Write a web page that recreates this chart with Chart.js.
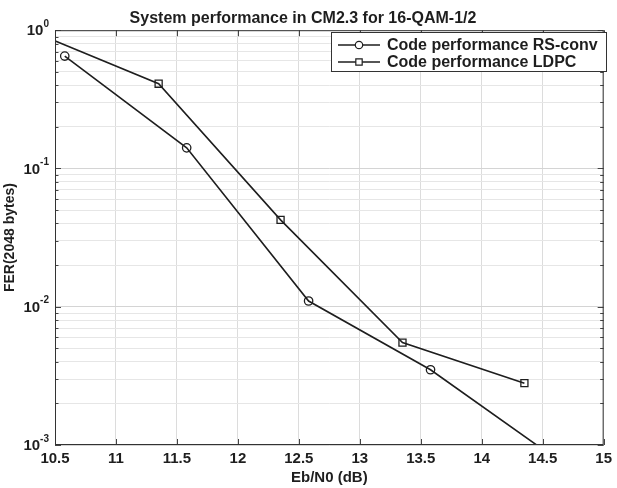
<!DOCTYPE html>
<html>
<head>
<meta charset="utf-8">
<script src="https://cdn.jsdelivr.net/npm/chart.js@4/dist/chart.umd.min.js"></script>
<style>
  body { margin: 0; background: #fff; }
  canvas { display: block; }
</style>
</head>
<body>
<canvas id="fer_chart" width="617" height="488"></canvas>
<script>
// values
const ebn0RS = [10.58, 11.58, 12.58, 13.58, 14.58];
const ferRS = [0.65, 0.141, 0.011, 0.0035, 0.00083];
const ebn0LDPC = [10.35, 11.35, 12.35, 13.35, 14.35];
const ferLDPC = [0.95, 0.41, 0.0425, 0.0055, 0.0028];

const seriesLabels = ["Code performance RS-conv", "Code performance LDPC"];
const xTicks = [10.5, 11, 11.5, 12, 12.5, 13, 13.5, 14, 14.5, 15];
const yDecades = [-3, -2, -1, 0];

const ink = "#1e1e1e";
const family = "Arial, 'Liberation Sans', sans-serif";

// grid lines at 1..9 x each decade
const yGrid = [];
yDecades.forEach((d) => {
  for (let m = 1; m <= 9; m++) {
    const v = m * Math.pow(10, d);
    if (v <= 1.0000001) yGrid.push(v);
  }
});
const isMajor = (v) => Math.abs(Math.log10(v) - Math.round(Math.log10(v))) < 1e-6;

const toPoints = (xs, ys) => xs.map((x, i) => ({ x: x, y: ys[i] }));

// MATLAB-ish box, inside ticks, superscript y labels and legend
const matlabAxes = {
  id: "matlabAxes",
  afterDatasetsDraw(chart) {
    const ctx = chart.ctx;
    const a = chart.chartArea;
    const xs = chart.scales.x;
    const ys = chart.scales.y;
    ctx.save();

    // tick marks inside the box
    ctx.strokeStyle = "#444";
    ctx.lineWidth = 1;
    ctx.beginPath();
    yGrid.forEach((v) => {
      const py = Math.round(ys.getPixelForValue(v)) + 0.5;
      const len = isMajor(v) ? 6 : 3.5;
      ctx.moveTo(a.left, py); ctx.lineTo(a.left + len, py);
      ctx.moveTo(a.right, py); ctx.lineTo(a.right - len, py);
    });
    xTicks.forEach((v) => {
      const px = Math.round(xs.getPixelForValue(v)) + 0.5;
      ctx.moveTo(px, a.bottom); ctx.lineTo(px, a.bottom - 6);
      ctx.moveTo(px, a.top); ctx.lineTo(px, a.top + 6);
    });
    ctx.stroke();

    // box
    ctx.strokeStyle = "#333";
    ctx.strokeRect(a.left + 0.5, a.top + 0.5, a.right - a.left - 1, a.bottom - a.top - 1);

    // y tick labels 10^n
    ctx.fillStyle = ink;
    ctx.textBaseline = "middle";
    yDecades.forEach((d) => {
      const py = ys.getPixelForValue(Math.pow(10, d));
      const exp = d === 0 ? "0" : "-" + Math.abs(d);
      ctx.font = "bold 10px " + family;
      const ew = ctx.measureText(exp).width;
      const right = a.left - 6;
      ctx.textAlign = "left";
      ctx.fillText(exp, right - ew, py - 6);
      ctx.font = "bold 15px " + family;
      ctx.textAlign = "right";
      ctx.fillText("10", right - ew, py + 1);
    });

    // legend
    const lx = 331, ly = 32, lw = 275, lh = 39;
    ctx.fillStyle = "#fff";
    ctx.fillRect(lx, ly, lw, lh);
    ctx.strokeStyle = "#333";
    ctx.lineWidth = 1;
    ctx.strokeRect(lx + 0.5, ly + 0.5, lw, lh);
    const rows = [45, 62];
    chart.data.datasets.forEach((ds, i) => {
      const y = rows[i];
      ctx.strokeStyle = ink;
      ctx.lineWidth = 1.5;
      ctx.beginPath();
      ctx.moveTo(338, y); ctx.lineTo(380, y);
      ctx.stroke();
      ctx.fillStyle = "#fff";
      ctx.lineWidth = 1.2;
      Chart.helpers.drawPoint(ctx, {
        pointStyle: ds.pointStyle,
        radius: ds.pointRadius - 0.5,
        borderWidth: 1.2,
        rotation: 0
      }, 359, y);
      ctx.fillStyle = ink;
      ctx.font = "bold 16px " + family;
      ctx.textAlign = "left";
      ctx.textBaseline = "middle";
      ctx.fillText(ds.label, 387, y + 1);
    });
    ctx.restore();
  }
};

new Chart(document.getElementById("fer_chart"), {
  type: "line",
  data: {
    datasets: [
      {
        label: seriesLabels[0],
        data: toPoints(ebn0RS, ferRS),
        borderColor: ink,
        borderWidth: 1.6,
        pointStyle: "circle",
        pointRadius: 4.2,
        pointBorderWidth: 1.3,
        pointBackgroundColor: "rgba(0,0,0,0)",
        pointBorderColor: ink,
        fill: false,
        tension: 0,
      },
      {
        label: seriesLabels[1],
        data: toPoints(ebn0LDPC, ferLDPC),
        borderColor: ink,
        borderWidth: 1.6,
        pointStyle: "rect",
        pointRadius: 5,
        pointBorderWidth: 1.3,
        pointBackgroundColor: "rgba(0,0,0,0)",
        pointBorderColor: ink,
        fill: false,
        tension: 0,
      },
    ],
  },
  options: {
    responsive: false,
    animation: false,
    devicePixelRatio: 1,
    layout: { padding: { top: 0, right: 11, left: 0, bottom: 0 } },
    plugins: {
      legend: { display: false },
      tooltip: { enabled: false },
      title: {
        display: true,
        text: "System performance in CM2.3 for 16-QAM-1/2",
        color: ink,
        font: { family: family, size: 16, weight: "bold" },
        padding: { top: 9, bottom: 2 },
      },
    },
    scales: {
      x: {
        type: "linear",
        min: 10.5,
        max: 15,
        afterBuildTicks: (scale) => {
          scale.ticks = xTicks.map((v) => ({ value: v }));
        },
        afterFit: (scale) => { scale.height = 43; },
        grid: { color: "#dcdcdc", drawTicks: false },
        border: { display: false },
        ticks: {
          color: ink,
          padding: 5,
          maxRotation: 0,
          font: { family: family, size: 15, weight: "bold" },
          callback: (v) => String(v),
        },
        title: {
          display: true,
          text: "Eb/N0 (dB)",
          color: ink,
          font: { family: family, size: 15, weight: "bold" },
          padding: { top: 0, bottom: 1 },
        },
      },
      y: {
        type: "logarithmic",
        min: 0.001,
        max: 1,
        afterBuildTicks: (scale) => {
          scale.ticks = yGrid.map((v) => ({ value: v }));
        },
        afterFit: (scale) => { scale.width = 55; },
        grid: {
          drawTicks: false,
          color: (c) => (c.tick && isMajor(c.tick.value) ? "#d4d4d4" : "#e6e6e6"),
        },
        border: { display: false },
        ticks: { display: false },
        title: {
          display: true,
          text: "FER(2048 bytes)",
          color: ink,
          font: { family: family, size: 14, weight: "bold" },
          padding: { top: 2, bottom: 0 },
        },
      },
    },
  },
  plugins: [matlabAxes],
});
</script>
</body>
</html>
